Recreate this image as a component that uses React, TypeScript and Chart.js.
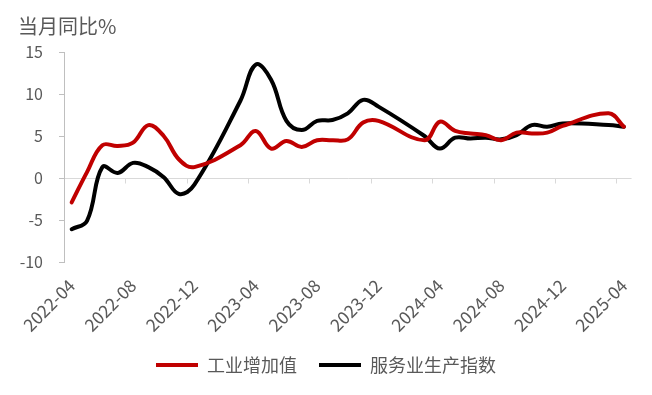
import React, { useEffect, useRef } from 'react';
import { Chart, registerables } from 'chart.js';

Chart.register(...registerables);

const months = [
  '2022-04', '2022-05', '2022-06', '2022-07', '2022-08', '2022-09', '2022-10', '2022-11', '2022-12',
  '2023-01', '2023-02', '2023-03', '2023-04', '2023-05', '2023-06', '2023-07', '2023-08', '2023-09',
  '2023-10', '2023-11', '2023-12', '2024-01', '2024-02', '2024-03', '2024-04', '2024-05', '2024-06',
  '2024-07', '2024-08', '2024-09', '2024-10', '2024-11', '2024-12', '2025-01', '2025-02', '2025-03',
  '2025-04',
];

// 工业增加值 当月同比 (%), 1-2月合并公布 → 空缺
const industry = [
  -2.9, 0.7, 3.9, 3.8, 4.2, 6.3, 5.0, 2.2, 1.3,
  null, null, 3.9, 5.6, 3.5, 4.4, 3.7, 4.5, 4.5,
  4.6, 6.6, 6.8, null, null, 4.5, 6.7, 5.6, 5.3,
  5.1, 4.5, 5.4, 5.3, 5.4, 6.2, null, null, 7.7,
  6.1,
];

// 服务业生产指数 当月同比 (%)
const services = [
  -6.1, -5.1, 1.3, 0.6, 1.8, 1.3, 0.1, -1.9, -0.8,
  null, null, 9.2, 13.5, 11.7, 6.8, 5.7, 6.8, 6.9,
  7.7, 9.3, 8.5, null, null, 5.0, 3.5, 4.8, 4.7,
  4.8, 4.6, 5.1, 6.3, 6.1, 6.5, null, null, 6.3,
  6.1,
];

const seriesNames = ['工业增加值', '服务业生产指数'];
const yTitle = '当月同比%';
const labelEvery = 4;

const TEXT = '#595959';
const FONT = '"Noto Sans CJK SC", "Noto Sans", sans-serif';

const zeroAxisTicks = {
  id: 'zeroAxisTicks',
  beforeDatasetsDraw(chart: any) {
    const x = chart.scales.x;
    const y = chart.scales.y;
    const y0 = Math.round(y.getPixelForValue(0)) + 0.5;
    const ctx = chart.ctx;
    ctx.save();
    ctx.strokeStyle = '#d9d9d9';
    ctx.lineWidth = 1;
    for (let k = labelEvery; k < months.length; k += labelEvery) {
      const px = Math.round((x.getPixelForValue(k - 1) + x.getPixelForValue(k)) / 2) + 0.5;
      ctx.beginPath();
      ctx.moveTo(px, y0);
      ctx.lineTo(px, y0 + 5);
      ctx.stroke();
    }
    ctx.restore();
  },
};

export default function App() {
  const ref = useRef<HTMLCanvasElement | null>(null);

  useEffect(() => {
    document.body.style.margin = '0';
    if (!ref.current) return;
    Chart.defaults.font.family = FONT;
    const chart = new Chart(ref.current, {
      type: 'line',
      data: {
        labels: months,
        datasets: [
          {
            label: seriesNames[0],
            data: industry,
            borderColor: '#C00000',
            backgroundColor: '#C00000',
            borderWidth: 4,
            pointRadius: 0,
            tension: 0.4,
            spanGaps: true,
            fill: false,
            borderCapStyle: 'round',
            borderJoinStyle: 'round',
          },
          {
            label: seriesNames[1],
            data: services,
            borderColor: '#000000',
            backgroundColor: '#000000',
            borderWidth: 4,
            pointRadius: 0,
            tension: 0.4,
            spanGaps: true,
            fill: false,
            borderCapStyle: 'round',
            borderJoinStyle: 'round',
          },
        ],
      },
      options: {
        animation: false,
        responsive: false,
        layout: { padding: { left: 18, right: 18, top: 0, bottom: 11 } },
        plugins: {
          title: {
            display: true,
            text: yTitle,
            align: 'start',
            color: TEXT,
            font: { size: 20, weight: 'normal' },
            padding: { top: 14, bottom: 14 },
          },
          legend: {
            position: 'bottom',
            labels: {
              usePointStyle: true,
              pointStyle: 'line',
              pointStyleWidth: 42,
              color: TEXT,
              font: { size: 18 },
              padding: 22,
            },
          },
          tooltip: { enabled: false },
        },
        scales: {
          x: {
            offset: true,
            grid: { display: false, drawTicks: false },
            border: { display: false },
            ticks: {
              autoSkip: false,
              maxRotation: 45,
              minRotation: 45,
              color: TEXT,
              font: { size: 17.5 },
              padding: 13,
              callback: (_v: any, i: number) => (i % labelEvery === 0 ? months[i] : ''),
            },
            afterFit: (s: any) => {
              s.height = 72;
            },
          },
          y: {
            min: -10,
            max: 15,
            ticks: { stepSize: 5, color: TEXT, font: { size: 16 }, padding: 16 },
            grid: {
              color: (c: any) => (c.tick && c.tick.value === 0 ? '#d9d9d9' : 'rgba(0,0,0,0)'),
              drawTicks: true,
              tickLength: 5,
              tickColor: '#bfbfbf',
            },
            border: { color: '#bfbfbf' },
            afterFit: (s: any) => {
              s.width = 46;
            },
          },
        },
      },
      plugins: [zeroAxisTicks],
    } as any);
    return () => chart.destroy();
  }, []);

  return (
    <div style={{ width: 652, height: 395 }}>
      <canvas ref={ref} width={652} height={395} style={{ display: 'block' }} />
    </div>
  );
}
